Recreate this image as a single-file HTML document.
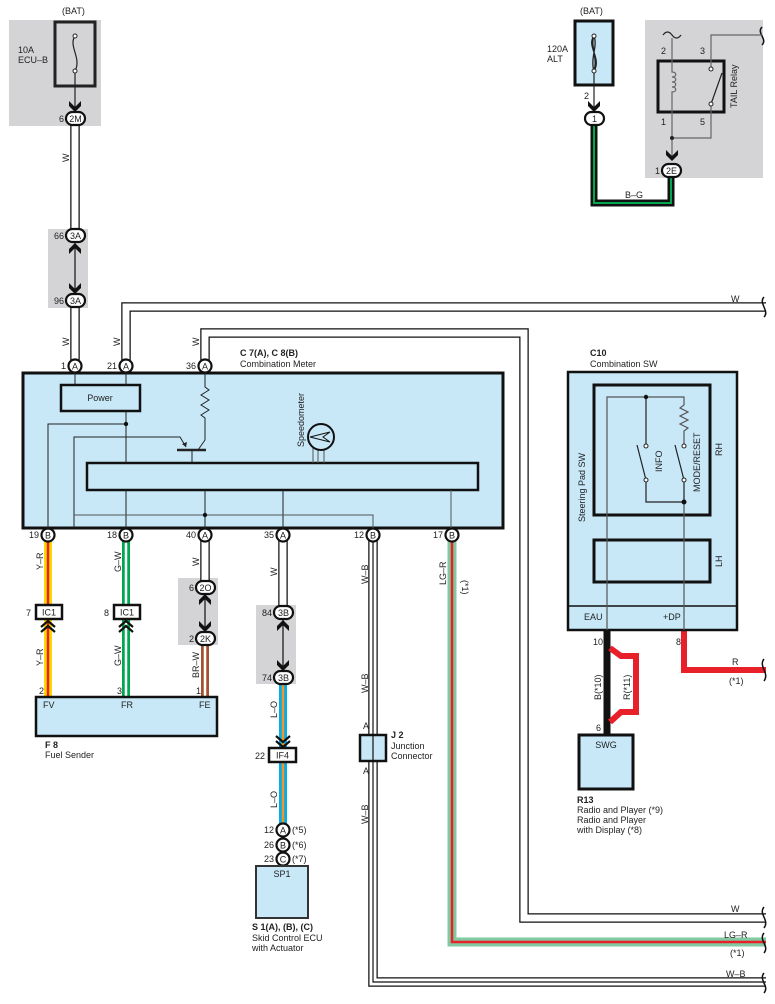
<!DOCTYPE html>
<html><head><meta charset="utf-8"><style>
html,body{margin:0;padding:0;background:#fff;}
svg{display:block;font-family:"Liberation Sans",sans-serif;}
text{font-size:9px;fill:#222;}
.b{font-weight:bold;}
</style></head><body>
<svg width="775" height="1004" viewBox="0 0 775 1004" xmlns="http://www.w3.org/2000/svg">
<defs>
<g id="dn"><path d="M-6,-4 L0,2 L6,-4 L6,1 L0,7 L-6,1 Z" fill="#111"/></g>
<g id="up"><path d="M-6,4 L0,-2 L6,4 L6,-1 L0,-7 L-6,-1 Z" fill="#111"/></g>
<g id="chev"><path d="M-7,5 L0,-1 L7,5 M-7,10 L0,4 L7,10" fill="none" stroke="#111" stroke-width="2.2"/></g>
</defs>

<!-- gray boxes -->
<rect x="9" y="20" width="92" height="106" fill="#d4d4d6"/>
<rect x="48" y="229" width="40" height="79" fill="#d4d4d6"/>
<rect x="645" y="20" width="118" height="158" fill="#d4d4d6"/>
<rect x="178" y="578" width="40" height="67" fill="#d4d4d6"/>
<rect x="256" y="605" width="40" height="79" fill="#d4d4d6"/>

<!-- ECU-B fuse -->
<text x="62" y="14">(BAT)</text>
<text x="18" y="53">10A</text><text x="18" y="63">ECU–B</text>
<rect x="55" y="22" width="40" height="64" fill="none" stroke="#222" stroke-width="3"/>
<path d="M75,36 C68,46 82,58 75,71" fill="none" stroke="#222" stroke-width="1.2"/>
<circle cx="75" cy="36" r="2" fill="#fff" stroke="#222"/><circle cx="75" cy="71" r="2" fill="#fff" stroke="#222"/>
<line x1="75" y1="73" x2="75" y2="110" stroke="#222" stroke-width="1.2"/>
<use href="#dn" x="75" y="105"/>

<!-- white wires (double) -->
<g fill="none" stroke-linejoin="miter">
<g stroke="#111" stroke-width="9.5">
<path d="M75,124 V229"/><path d="M75,306 V360"/>
<path d="M126,360 V307 H766"/>
<path d="M205,360 V333 H524 V918 H766"/>
<path d="M205,540 V583"/><path d="M283,540 V606"/>
</g>
<g stroke="#fff" stroke-width="7">
<path d="M75,124 V229"/><path d="M75,306 V360"/>
<path d="M126,360 V307 H766"/>
<path d="M205,360 V333 H524 V918 H766"/>
<path d="M205,540 V583"/><path d="M283,540 V606"/>
</g>
<!-- W-B -->
<path d="M373,540 V982 H766" stroke="#111" stroke-width="9.5"/>
<path d="M373,540 V982 H766" stroke="#fff" stroke-width="7"/>
<path d="M373,540 V982 H766" stroke="#111" stroke-width="1.2"/>
<!-- colored -->
<path d="M48,540 V697" stroke="#ffd800" stroke-width="8"/><path d="M48,540 V697" stroke="#e8202a" stroke-width="2.5"/>
<path d="M126,540 V697" stroke="#00a650" stroke-width="8"/><path d="M126,540 V697" stroke="#fff" stroke-width="2.5"/>
<path d="M205,643 V697" stroke="#a3522d" stroke-width="8"/><path d="M205,643 V697" stroke="#fff" stroke-width="2.5"/>
<path d="M283,683 V825" stroke="#00aeef" stroke-width="8"/><path d="M283,683 V825" stroke="#f7941d" stroke-width="2.5"/>
<path d="M452,540 V942 H766" stroke="#82c8a0" stroke-width="9"/><path d="M452,540 V942 H766" stroke="#e8202a" stroke-width="2.5"/>
<path d="M594,124 V203 H671 V176" stroke="#111" stroke-width="7"/><path d="M594,124 V203 H671 V176" stroke="#00a650" stroke-width="2"/>
<!-- SW wires -->
<path d="M607,630 V735" stroke="#111" stroke-width="7"/>
<path d="M610,648 L621,656 H636 V712 H621 L610,722" stroke="#e8202a" stroke-width="6"/>
<path d="M684,630 V670 H766" stroke="#e8202a" stroke-width="6"/>
</g>

<!-- wire labels -->
<g font-size="9">
<text transform="translate(69,162) rotate(-90)">W</text>
<text transform="translate(69,346) rotate(-90)">W</text>
<text transform="translate(120,346) rotate(-90)">W</text>
<text transform="translate(199,346) rotate(-90)">W</text>
<text x="731" y="302">W</text>
<text x="731" y="912">W</text>
<text x="724" y="938">LG–R</text>
<text x="730" y="956">(*1)</text>
<text x="726" y="977">W–B</text>
<text x="625" y="198">B–G</text>
<text x="732" y="665">R</text>
<text x="729" y="684">(*1)</text>
<text transform="translate(43,570) rotate(-90)">Y–R</text>
<text transform="translate(43,666) rotate(-90)">Y–R</text>
<text transform="translate(121,572) rotate(-90)">G–W</text>
<text transform="translate(121,666) rotate(-90)">G–W</text>
<text transform="translate(199,566) rotate(-90)">W</text>
<text transform="translate(199,678) rotate(-90)">BR–W</text>
<text transform="translate(277,576) rotate(-90)">W</text>
<text transform="translate(277,718) rotate(-90)">L–O</text>
<text transform="translate(277,808) rotate(-90)">L–O</text>
<text transform="translate(368,584) rotate(-90)">W–B</text>
<text transform="translate(368,693) rotate(-90)">W–B</text>
<text transform="translate(368,824) rotate(-90)">W–B</text>
<text transform="translate(446,585) rotate(-90)">LG–R</text>
<text transform="translate(462,580) rotate(90)">(*1)</text>
<text transform="translate(601,700) rotate(-90)">B(*10)</text>
<text transform="translate(630,700) rotate(-90)">R(*11)</text>
</g>

<!-- squiggles -->
<g fill="none" stroke="#111" stroke-width="1.5">
<path d="M764,297 C758,303 770,311 764,317"/>
<path d="M764,907 C758,914 770,920 764,928"/>
<path d="M764,933 C758,940 770,946 764,953"/>
<path d="M764,973 C758,980 770,986 764,993"/>
<path d="M764,659 C758,666 770,673 764,681"/>
<path d="M762,27 C756,33 768,39 762,45"/>
</g>

<!-- connectors ovals -->
<g stroke="#111" stroke-width="2.2" fill="#fff">
<rect x="66" y="112" width="19" height="13" rx="6.5"/>
<rect x="66" y="229" width="19" height="13" rx="6.5"/>
<rect x="66" y="294" width="19" height="13" rx="6.5"/>
<rect x="196" y="581" width="19" height="13" rx="6.5"/>
<rect x="196" y="632" width="19" height="13" rx="6.5"/>
<rect x="274" y="606" width="19" height="13" rx="6.5"/>
<rect x="274" y="671" width="19" height="13" rx="6.5"/>
<rect x="585" y="112" width="19" height="13" rx="6.5"/>
<rect x="662" y="164" width="19" height="13" rx="6.5"/>
</g>
<g font-size="9" text-anchor="middle">
<text x="75.5" y="122">2M</text><text x="75.5" y="239">3A</text><text x="75.5" y="304">3A</text>
<text x="205.5" y="591">2O</text><text x="205.5" y="642">2K</text>
<text x="283.5" y="616">3B</text><text x="283.5" y="681">3B</text>
<text x="594.5" y="122">1</text><text x="671.5" y="174">2E</text>
</g>
<g font-size="9" text-anchor="end">
<text x="64" y="122">6</text><text x="64" y="239">66</text><text x="64" y="304">96</text>
<text x="194" y="591">6</text><text x="194" y="642">2</text>
<text x="272" y="616">84</text><text x="272" y="681">74</text>
<text x="660" y="174">1</text>
</g>
<!-- inline arrows for junction pairs -->
<line x1="75" y1="243" x2="75" y2="293" stroke="#111" stroke-width="1.2"/>
<use href="#up" x="75" y="250"/><use href="#dn" x="75" y="287"/>
<line x1="205" y1="595" x2="205" y2="631" stroke="#111" stroke-width="1.2"/>
<use href="#up" x="205" y="601"/><use href="#dn" x="205" y="625"/>
<line x1="283" y1="620" x2="283" y2="670" stroke="#111" stroke-width="1.2"/>
<use href="#up" x="283" y="627"/><use href="#dn" x="283" y="664"/>

<!-- pin circles on meter -->
<g stroke="#111" stroke-width="2.2" fill="#fff">
<circle cx="75" cy="366" r="6.5"/><circle cx="126" cy="366" r="6.5"/><circle cx="205" cy="366" r="6.5"/>
<circle cx="48" cy="535" r="6.5"/><circle cx="126" cy="535" r="6.5"/><circle cx="205" cy="535" r="6.5"/>
<circle cx="283" cy="535" r="6.5"/><circle cx="373" cy="535" r="6.5"/><circle cx="452" cy="535" r="6.5"/>
<circle cx="283" cy="830" r="6.5"/><circle cx="283" cy="845" r="6.5"/><circle cx="283" cy="859" r="6.5"/>
</g>
<g font-size="8.5" text-anchor="middle">
<text x="75" y="369.5">A</text><text x="126" y="369.5">A</text><text x="205" y="369.5">A</text>
<text x="48" y="538.5">B</text><text x="126" y="538.5">B</text><text x="205" y="538.5">A</text>
<text x="283" y="538.5">A</text><text x="373" y="538.5">B</text><text x="452" y="538.5">B</text>
<text x="283" y="833.5">A</text><text x="283" y="848.5">B</text><text x="283" y="862.5">C</text>
</g>
<g font-size="9" text-anchor="end">
<text x="66" y="369">1</text><text x="117" y="369">21</text><text x="196" y="369">36</text>
<text x="39" y="538">19</text><text x="117" y="538">18</text><text x="196" y="538">40</text>
<text x="274" y="538">35</text><text x="364" y="538">12</text><text x="443" y="538">17</text>
<text x="274" y="833">12</text><text x="274" y="848">26</text><text x="274" y="862">23</text>
</g>
<text x="292" y="833">(*5)</text><text x="292" y="848">(*6)</text><text x="292" y="862">(*7)</text>

<!-- Combination meter -->
<text x="240" y="356" class="b" font-size="9">C 7(A), C 8(B)</text>
<text x="240" y="367">Combination Meter</text>
<rect x="23" y="373" width="480" height="155" fill="#c8e8f8" stroke="#111" stroke-width="3"/>
<rect x="61" y="385" width="79" height="26" fill="#c8e8f8" stroke="#111" stroke-width="2.5"/>
<text x="100" y="401" text-anchor="middle">Power</text>
<rect x="87" y="463" width="391" height="27" fill="#c8e8f8" stroke="#111" stroke-width="2.5"/>
<g fill="none" stroke="#222" stroke-width="1">
<path d="M75,373 V385"/><path d="M126,373 V385"/><path d="M126,411 V463"/>
<path d="M126,424 H48 V528"/>
<path d="M205,373 V387 l4,3 -8,5 8,5 -8,5 8,5 -8,5 4,3 V440 L198,450"/>
<path d="M74,528 V437 H180 L186,447"/>
<path d="M177,450 H206" stroke-width="2.5"/>
<path d="M192,450 V463"/>
<path d="M126,490 V528"/><path d="M205,490 V528"/><path d="M283,490 V528"/>
<path d="M74,515 H373 V528" stroke="#555"/>
<path d="M451,490 V528" stroke="#555"/>
<path d="M313,448 V463 M318,450 V463 M324,449 V463" stroke="#555"/>
</g>
<path d="M186,447 l-4,-3 5,-2 z" fill="#222"/>
<circle cx="126" cy="424" r="2.2" fill="#111"/><circle cx="205" cy="515" r="2.2" fill="#111"/>
<circle cx="321" cy="437" r="13" fill="none" stroke="#111" stroke-width="2"/>
<path d="M310,437 L330,432 L323,437 L330,442 Z" fill="none" stroke="#111" stroke-width="1"/>
<text transform="translate(304,447) rotate(-90)" font-size="8.5">Speedometer</text>

<!-- IC1 connectors -->
<g fill="#fff" stroke="#111" stroke-width="2.5">
<rect x="36" y="605" width="26" height="14"/><rect x="114" y="605" width="26" height="14"/>
<rect x="269" y="748" width="27" height="14"/>
</g>
<text x="49" y="615.5" text-anchor="middle">IC1</text><text x="127" y="615.5" text-anchor="middle">IC1</text>
<text x="282.5" y="758.5" text-anchor="middle">IF4</text>
<text x="31" y="616" text-anchor="end">7</text><text x="109" y="616" text-anchor="end">8</text>
<text x="265" y="759" text-anchor="end">22</text>
<use href="#chev" x="48" y="622"/><use href="#chev" x="126" y="622"/>
<g transform="translate(283,746) scale(1,-1)"><use href="#chev"/></g>

<!-- Fuel sender -->
<text x="39" y="694">2</text><text x="117" y="694">3</text><text x="196" y="694">1</text>
<rect x="36" y="697" width="181" height="39" fill="#c8e8f8" stroke="#111" stroke-width="2.5"/>
<text x="43" y="708">FV</text><text x="121" y="708">FR</text><text x="199" y="708">FE</text>
<text x="45" y="748" class="b">F 8</text><text x="45" y="758">Fuel Sender</text>

<!-- J2 -->
<rect x="360" y="735" width="26" height="26" fill="#c8e8f8" stroke="#111" stroke-width="2.5"/>
<line x1="373" y1="735" x2="373" y2="761" stroke="#111" stroke-width="1.2"/>
<text x="363" y="729">A</text><text x="363" y="774">A</text>
<text x="391" y="738" class="b">J 2</text><text x="391" y="749">Junction</text><text x="391" y="759">Connector</text>

<!-- SP1 -->
<rect x="256" y="866" width="52" height="52" fill="#c8e8f8" stroke="#333" stroke-width="2"/>
<text x="282" y="877" text-anchor="middle">SP1</text>
<text x="252" y="930" class="b">S 1(A), (B), (C)</text>
<text x="252" y="941">Skid Control ECU</text><text x="252" y="951">with Actuator</text>

<!-- ALT fuse -->
<text x="580" y="14">(BAT)</text>
<text x="547" y="52">120A</text><text x="547" y="62">ALT</text>
<rect x="575" y="21" width="38" height="64" fill="#c8e8f8" stroke="#111" stroke-width="3"/>
<path d="M594,36 C586,46 602,58 594,71 M594,36 C590,46 598,58 594,71 M594,36 C598,46 590,58 594,71" fill="none" stroke="#222" stroke-width="1.3"/>
<circle cx="594" cy="36" r="2" fill="#fff" stroke="#222"/><circle cx="594" cy="71" r="2" fill="#fff" stroke="#222"/>
<line x1="594" y1="73" x2="594" y2="110" stroke="#222" stroke-width="1.2"/>
<use href="#dn" x="594" y="105"/>
<text x="584" y="99">2</text>

<!-- TAIL relay -->
<rect x="658" y="61" width="66" height="51" fill="#d4d4d6" stroke="#111" stroke-width="3"/>
<g fill="none" stroke="#666" stroke-width="1.2">
<path d="M663,35 c3,-4 6,-4 9,0 c3,4 6,4 9,0" stroke="#222"/>
<path d="M672,38 V72 c5,0 5,5 0,5 c5,0 5,5 0,5 c5,0 5,5 0,5 c5,0 5,5 0,5 V158"/>
<path d="M672,138 H711 V106"/>
<path d="M711,67 V35 H762"/>
<path d="M711,104 L722,73" stroke="#222"/>
</g>
<circle cx="711" cy="69" r="2" fill="#fff" stroke="#222"/><circle cx="711" cy="104" r="2" fill="#fff" stroke="#222"/>
<circle cx="672" cy="138" r="2" fill="#222"/>
<use href="#dn" x="672" y="154"/>
<text x="661" y="54">2</text><text x="700" y="54">3</text><text x="661" y="125">1</text><text x="700" y="125">5</text>
<text transform="translate(737,108) rotate(-90)">TAIL Relay</text>

<!-- Combination SW -->
<text x="590" y="356" class="b">C10</text><text x="590" y="367">Combination SW</text>
<rect x="568" y="372" width="169" height="258" fill="#c8e8f8" stroke="#111" stroke-width="2.5"/>
<line x1="568" y1="606" x2="737" y2="606" stroke="#111" stroke-width="1.5"/>
<rect x="594" y="385" width="116" height="130" fill="none" stroke="#111" stroke-width="3"/>
<rect x="594" y="540" width="116" height="42" fill="none" stroke="#111" stroke-width="3"/>
<g fill="none" stroke="#555" stroke-width="1.2">
<path d="M607,630 V397 H684 V405 l-4,3 8,4 -8,4 8,4 -8,4 8,4 -4,3 V444"/>
<path d="M646,397 V444" stroke="#222"/>
<path d="M646,481 V502 H684 V481" stroke="#222"/>
<path d="M684,502 V630"/>
<path d="M646,480 L637,445 M684,480 L675,445" stroke="#222"/>
</g>
<circle cx="646" cy="397" r="2.2" fill="#111"/><circle cx="684" cy="502" r="2.5" fill="#111"/>
<circle cx="646" cy="446" r="2" fill="#fff" stroke="#222"/><circle cx="646" cy="480" r="2" fill="#fff" stroke="#222"/>
<circle cx="684" cy="446" r="2" fill="#fff" stroke="#222"/><circle cx="684" cy="480" r="2" fill="#fff" stroke="#222"/>
<text transform="translate(662,472) rotate(-90)">INFO</text>
<text transform="translate(700,492) rotate(-90)">MODE/RESET</text>
<text transform="translate(722,456) rotate(-90)">RH</text>
<text transform="translate(722,567) rotate(-90)">LH</text>
<text transform="translate(585,522) rotate(-90)">Steering Pad SW</text>
<text x="584" y="620">EAU</text><text x="663" y="620">+DP</text>
<text x="593" y="645">10</text><text x="676" y="645">8</text><text x="596" y="731">6</text>
<rect x="579" y="735" width="54" height="54" fill="#c8e8f8" stroke="#111" stroke-width="3"/>
<text x="606" y="748" text-anchor="middle">SWG</text>
<text x="577" y="803" class="b">R13</text>
<text x="577" y="813">Radio and Player (*9)</text>
<text x="577" y="823">Radio and Player</text>
<text x="577" y="833">with Display (*8)</text>
</svg>
</body></html>
